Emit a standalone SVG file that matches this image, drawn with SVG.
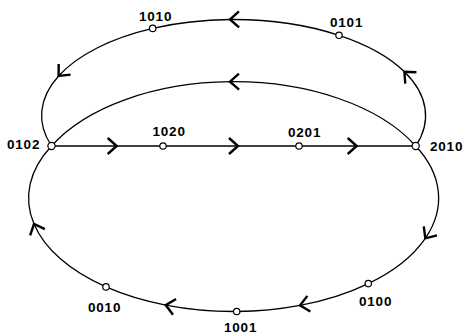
<svg xmlns="http://www.w3.org/2000/svg" width="465" height="335" viewBox="0 0 465 335">
<style>
.e{fill:none;stroke:#000;stroke-width:1.3;marker-mid:url(#chev)}
.n{fill:#fff;stroke:#000;stroke-width:1.2}
.t{font-family:"Liberation Sans",Arial,sans-serif;font-weight:bold;font-size:13.5px;letter-spacing:0.8px;fill:#000}
</style>
<defs>
<marker id="chev" markerUnits="userSpaceOnUse" markerWidth="26" markerHeight="26" viewBox="-13 -13 26 26" refX="0" refY="0" orient="auto" overflow="visible">
<path d="M-9,-8 L0,0 L-9,8" fill="none" stroke="#000" stroke-width="2.4" stroke-linecap="butt" stroke-linejoin="miter"/>
</marker>
</defs>
<rect width="465" height="335" fill="#fff"/>
<g id="connectors">
<path class="e" d="M51.5,146 L116.7,146 L163,146"/>
<path class="e" d="M163,146 L238,146 L299,146"/>
<path class="e" d="M299,146 L356.7,146 L415.7,146"/>
<path class="e" d="M415.7,146 A192,96.05 0 0 0 404.4,71.7 A192,96.05 0 0 0 339,35.3"/>
<path class="e" d="M339,35.3 A192,96.05 0 0 0 230,19.52 A192,96.05 0 0 0 152.7,28.4"/>
<path class="e" d="M152.7,28.4 A192,96.05 0 0 0 58.6,76 A192,96.05 0 0 0 51.5,146"/>
<path class="e" d="M415.7,146 A205,118.9 0 0 0 230,81.7 A205,118.9 0 0 0 51.5,146"/>
<path class="e" d="M415.7,146 A205,113.3 0 0 1 425.3,238.3 A205,113.3 0 0 1 368.3,283.6"/>
<path class="e" d="M368.3,283.6 A205,113.3 0 0 1 300,305.4 A205,113.3 0 0 1 236.7,311.5"/>
<path class="e" d="M236.7,311.5 A205,113.3 0 0 1 165.7,305.1 A205,113.3 0 0 1 106,286.9"/>
<path class="e" d="M106,286.9 A205,113.3 0 0 1 34,224 A205,113.3 0 0 1 51.5,146"/>
</g>
<g id="n0102"><circle class="n" cx="51.5" cy="146" r="3.6"/><text class="t" x="7" y="148.5">0102</text></g>
<g id="n2010"><circle class="n" cx="415.7" cy="146" r="3.6"/><text class="t" x="430" y="150.5">2010</text></g>
<g id="n1020"><circle class="n" cx="163" cy="146" r="3.2"/><text class="t" x="152.5" y="135.5">1020</text></g>
<g id="n0201"><circle class="n" cx="299" cy="146" r="3.2"/><text class="t" x="288" y="137">0201</text></g>
<g id="n1010"><circle class="n" cx="152.7" cy="28.4" r="3.2"/><text class="t" x="139" y="21">1010</text></g>
<g id="n0101"><circle class="n" cx="339" cy="35.3" r="3.2"/><text class="t" x="330" y="27">0101</text></g>
<g id="n0100"><circle class="n" cx="368.3" cy="283.6" r="3.2"/><text class="t" x="359" y="305.5">0100</text></g>
<g id="n1001"><circle class="n" cx="236.7" cy="311.5" r="3.2"/><text class="t" x="224" y="332">1001</text></g>
<g id="n0010"><circle class="n" cx="106" cy="286.9" r="3.2"/><text class="t" x="88" y="312">0010</text></g>
</svg>
